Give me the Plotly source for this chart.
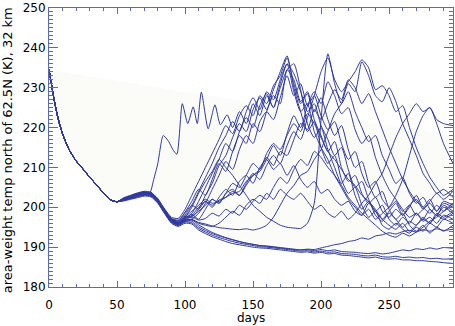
import plotly.graph_objects as go

# shared early segment (all members overlap)
early_days = [0, 1, 2, 3, 4, 5, 6, 7, 8, 10, 12, 15, 20, 25, 30, 35, 40, 45, 50]
early_temp = [234.5, 232.5, 230.5, 228.4, 226.6, 224.9, 223.3, 221.9, 220.6, 218.4,
              216.6, 214.3, 211.6, 209.6, 207.5, 205.6, 203.6, 201.9, 201.4]

# common day grid for members (after day 50)
grid_days = [55, 60, 65, 70, 75, 80, 85, 90, 95, 100,
             105, 110, 115, 120, 125, 130, 135, 140, 145, 150,
             155, 160, 165, 170, 175, 180, 185, 190, 195, 200,
             205, 210, 215, 220, 225, 230, 235, 240, 245, 250,
             255, 260, 265, 270, 275, 280, 285, 290, 297]

# cold members
c1 = [201.6, 202.0, 202.4, 202.8, 202.6, 201.0, 198.4, 196.0, 195.2, 196.0,
      195.8, 194.3, 193.4, 192.6, 192.0, 191.4, 190.9, 190.6, 190.3, 190.0,
      189.8, 189.7, 189.5, 189.3, 189.1, 188.9, 188.7, 188.8, 188.5, 188.7,
      188.3, 188.4, 188.0, 187.9, 187.7, 187.5, 187.3, 187.5, 187.1, 187.0,
      187.1, 186.8, 186.8, 186.6, 186.6, 186.4, 186.3, 186.1, 185.9]
c2 = [201.8, 202.2, 202.6, 203.0, 202.8, 201.2, 198.6, 196.2, 195.4, 196.3,
      196.1, 194.7, 193.8, 193.0, 192.4, 191.9, 191.4, 191.0, 190.7, 190.4,
      190.1, 190.0, 189.8, 189.6, 189.4, 189.2, 189.0, 189.1, 188.8, 189.0,
      188.7, 188.8, 188.4, 188.3, 188.2, 187.9, 187.8, 188.0, 187.6, 187.5,
      187.7, 187.4, 187.5, 187.3, 187.4, 187.1, 187.2, 187.0, 187.1]
c3 = [201.9, 202.3, 202.8, 203.2, 203.0, 201.4, 198.8, 196.4, 195.6, 196.5,
      196.5, 195.1, 194.2, 193.4, 192.8, 192.3, 191.8, 191.4, 191.0, 190.7,
      190.4, 190.3, 190.1, 189.9, 189.7, 189.5, 189.3, 189.4, 189.1, 189.4,
      189.1, 189.3, 188.9, 188.8, 188.7, 188.5, 188.4, 188.6, 188.3, 188.5,
      188.9, 189.3, 189.1, 189.6, 189.4, 189.8, 189.5, 189.9, 189.7]
c4 = [202.1, 202.6, 203.1, 203.5, 203.3, 201.7, 199.2, 196.8, 196.0, 196.9,
      196.9, 195.6, 194.6, 193.7, 193.0, 192.4, 191.9, 191.4, 191.0, 190.7,
      190.4, 190.2, 190.0, 189.8, 189.6, 189.4, 189.3, 189.5, 189.4, 189.8,
      190.2, 190.6, 190.9, 191.4, 191.7, 192.3, 192.0, 192.8, 193.1, 193.6,
      193.3, 193.9, 194.2, 193.8, 194.4, 194.0, 194.6, 194.2, 194.5]

# members warming around day 100-115, peaking near day 175
w2 = [202.4, 203.0, 203.6, 204.0, 203.8, 202.0, 199.6, 197.5, 197.2, 199.5,
      203.0, 206.5, 210.0, 213.5, 217.0, 220.5, 218.5, 223.0, 225.5, 223.0,
      228.0, 226.0, 230.5, 233.0, 237.5, 231.0, 226.0, 228.5, 222.0, 218.0,
      214.0, 216.5, 210.0, 206.5, 208.0, 203.5, 201.0, 202.5, 199.0, 197.5,
      199.5, 198.0, 200.5, 202.0, 199.5, 201.5, 203.5, 202.0, 204.0]
w3 = [202.0, 202.4, 203.0, 203.5, 203.6, 202.2, 199.4, 197.0, 196.5, 198.0,
      200.5, 204.0, 207.5, 211.0, 215.0, 218.0, 221.5, 219.0, 224.0, 227.5,
      224.5, 229.0, 227.0, 232.0, 236.0, 233.5, 229.0, 224.0, 226.0, 220.5,
      217.0, 213.0, 215.0, 209.5, 205.0, 206.5, 202.0, 199.0, 200.5, 197.0,
      195.5, 197.5, 196.0, 198.5, 197.0, 199.5, 198.0, 200.5, 199.0]
w4 = [201.8, 202.6, 203.4, 203.9, 203.4, 201.6, 199.0, 196.8, 196.0, 197.2,
      198.5, 201.5, 205.0, 208.5, 212.0, 216.0, 214.0, 219.0, 222.5, 220.0,
      225.5, 228.5, 225.0, 230.0, 234.5, 236.0, 229.5, 221.0, 217.5, 220.0,
      214.5, 210.0, 206.0, 208.5, 203.0, 199.5, 201.5, 198.0, 196.5, 198.5,
      197.0, 195.0, 196.5, 195.5, 197.5, 196.0, 198.0, 197.0, 198.5]
w5 = [202.2, 202.8, 203.3, 203.7, 203.5, 201.8, 199.2, 196.9, 196.3, 197.8,
      197.5, 199.5, 203.0, 206.0, 210.5, 213.0, 217.5, 221.0, 219.0, 224.5,
      227.5, 224.5, 229.5, 234.0, 238.0, 230.0, 224.0, 219.0, 221.5, 215.0,
      211.0, 213.0, 207.0, 203.5, 205.0, 200.5, 197.5, 199.0, 195.5, 194.5,
      196.0, 194.5, 193.5, 195.0, 194.0, 196.0, 195.0, 197.0, 196.0]
w6 = [201.7, 202.2, 202.9, 203.3, 203.1, 201.3, 198.8, 196.3, 195.7, 196.9,
      197.0, 198.5, 201.0, 204.5, 208.0, 211.5, 209.5, 214.5, 218.0, 216.0,
      221.5, 224.0, 222.0, 227.5, 233.0, 228.0, 231.0, 225.5, 228.0, 223.0,
      219.5, 221.5, 216.0, 212.0, 214.0, 208.5, 205.0, 206.5, 202.0, 200.0,
      201.5, 199.0, 200.5, 198.0, 199.5, 201.0, 199.0, 201.5, 200.5]
w7 = [202.3, 202.9, 203.5, 203.8, 203.4, 201.9, 199.3, 197.1, 196.6, 198.8,
      201.5, 204.5, 203.0, 207.0, 211.0, 209.0, 214.0, 218.0, 216.0, 221.0,
      219.0, 224.0, 228.0, 226.0, 234.5, 232.0, 226.5, 229.0, 224.0, 227.5,
      222.0, 218.0, 220.5, 214.5, 210.0, 211.5, 206.0, 202.5, 204.0, 199.5,
      197.0, 198.5, 195.5, 194.0, 195.5, 193.5, 195.0, 194.0, 195.5]

# slower risers (peaks near day 205 and 230)
s1 = [201.9, 202.5, 203.1, 203.6, 203.4, 201.7, 199.1, 196.7, 196.0, 197.5,
      200.0, 203.5, 206.5, 209.0, 212.0, 210.0, 208.0, 205.5, 203.0, 200.5,
      199.0, 197.5, 196.5, 195.5, 195.0, 194.8, 194.7, 196.0, 201.0, 222.0,
      238.5, 231.0, 226.0, 229.0, 224.0, 220.0, 216.5, 218.0, 213.0, 209.5,
      206.0, 207.5, 203.5, 201.0, 202.5, 199.5, 198.0, 200.0, 198.5]
s2 = [202.0, 202.4, 202.9, 203.3, 203.2, 201.5, 199.0, 196.6, 195.9, 196.7,
      197.8, 199.0, 200.5, 202.0, 201.0, 203.5, 204.5, 203.0, 206.0, 208.5,
      207.0, 210.5, 213.0, 211.0, 215.5, 219.0, 217.0, 222.5, 228.0, 234.0,
      237.5, 232.0, 229.0, 231.5, 234.0, 237.0, 235.0, 229.5, 230.5, 228.0,
      224.0, 225.5, 220.0, 215.0, 211.0, 207.5, 205.0, 203.0, 204.5]
s3 = [201.8, 202.3, 202.8, 203.2, 203.0, 201.4, 198.9, 196.5, 195.7, 196.4,
      196.8, 196.2, 195.8, 195.3, 194.9, 194.7, 194.5, 194.4, 194.6, 194.3,
      194.7, 195.5, 197.5, 200.5, 203.5, 205.5, 208.0, 209.0, 212.0, 214.5,
      219.0, 223.5, 226.0, 231.0, 229.0, 236.5, 233.0, 228.0, 226.5, 230.0,
      226.5, 221.0, 217.0, 213.0, 208.5, 206.0, 203.5, 204.5, 202.5]
s4 = [202.1, 202.7, 203.2, 203.5, 203.2, 201.6, 199.1, 196.8, 196.2, 197.6,
      199.0, 200.5, 202.0, 201.0, 201.5, 202.5, 204.0, 203.0, 205.5, 208.0,
      209.5, 212.5, 210.5, 214.0, 213.0, 217.0, 221.0, 219.5, 224.5, 222.0,
      226.0, 229.5, 227.0, 232.0, 230.0, 226.0, 228.5, 224.0, 219.5, 215.0,
      211.0, 207.0, 204.0, 201.5, 200.0, 198.5, 200.5, 199.0, 201.0]

# late risers (peaks near day 275)
r1 = [201.9, 202.4, 202.9, 203.4, 203.2, 201.6, 199.0, 196.6, 195.9, 196.6,
      197.0, 196.0, 195.5, 195.2, 196.0, 197.5, 199.0, 198.0, 200.5, 202.0,
      201.0, 203.5, 202.0, 204.5, 203.0, 202.0, 203.5, 201.5, 199.5, 200.5,
      198.5, 197.5, 199.0, 197.0, 198.5, 201.0, 203.0, 206.0, 208.5, 213.0,
      217.5, 221.0, 223.5, 226.0, 224.0, 225.0, 222.0, 221.0, 220.5]
r2 = [202.0, 202.6, 203.0, 203.6, 203.4, 201.8, 199.3, 196.9, 196.1, 197.0,
      198.0, 200.0, 201.5, 200.0, 202.5, 204.5, 203.0, 206.5, 208.0, 206.0,
      210.0, 212.0, 209.5, 211.0, 208.0, 210.5, 207.0, 205.0, 206.5, 203.5,
      204.5, 202.0, 200.5, 201.5, 199.0, 198.0, 199.5, 197.0, 198.5, 200.0,
      203.0, 207.0, 213.0, 219.0, 223.0, 225.0, 221.0, 216.0, 211.0]

# moderate risers
m1 = [201.8, 202.5, 203.1, 203.4, 203.1, 201.3, 198.9, 196.6, 196.0, 197.3,
      198.2, 197.0, 199.5, 202.0, 201.0, 203.5, 206.0, 205.0, 208.0, 211.0,
      209.5, 213.5, 216.0, 214.5, 218.0, 221.0, 219.0, 223.5, 221.0, 217.5,
      214.0, 212.0, 209.5, 207.0, 205.5, 203.0, 201.5, 199.5, 197.0, 195.5,
      194.5, 196.0, 194.0, 195.5, 197.0, 196.0, 198.5, 197.5, 199.0]
m2 = [202.0, 202.5, 203.0, 203.5, 203.3, 201.7, 199.2, 196.8, 196.1, 197.3,
      197.6, 196.8, 197.2, 198.5, 197.8, 199.5, 198.5, 200.5, 199.5, 201.5,
      203.0, 202.0, 205.0, 207.5, 206.0, 209.5, 212.0, 210.5, 214.0, 212.5,
      210.0, 208.0, 205.5, 202.5, 200.5, 198.5, 197.0, 195.5, 194.0, 193.0,
      192.5, 193.5, 192.8, 193.8, 195.0, 196.5, 197.5, 199.0, 201.0]
m3 = [202.2, 202.7, 203.3, 203.7, 203.5, 201.9, 199.4, 197.2, 196.8, 198.5,
      200.5, 199.5, 201.5, 200.5, 201.8, 202.5, 203.5, 204.0, 206.5, 208.0,
      209.0, 212.0, 215.5, 213.0, 218.5, 223.0, 220.0, 225.5, 229.0, 226.0,
      231.5, 228.0, 223.5, 225.0, 219.5, 216.0, 218.0, 212.5, 208.0, 204.5,
      202.0, 199.5, 197.5, 198.5, 196.5, 197.5, 196.0, 198.0, 197.0]

# earliest warming member (own day list)
w1_days = [55, 60, 65, 70, 74, 77, 80, 84, 88, 91, 94, 98, 102, 106, 109, 112, 117,
           122, 126, 131, 135, 140, 145, 150, 155, 160, 165, 170, 175, 180, 185,
           190, 195, 200, 205, 210, 215, 220, 225, 230, 235, 240, 245, 250, 255,
           260, 265, 270, 275, 280, 285, 290, 297]
w1_temp = [202.2, 202.7, 203.2, 203.6, 203.5, 207.0, 211.0, 218.0, 216.5, 214.5,
           213.3, 226.0, 221.0, 225.2, 221.0, 228.9, 219.7, 225.7, 220.7, 223.2,
           220.0, 224.0, 221.0, 226.0, 223.0, 228.0, 225.0, 231.0, 236.0, 229.0,
           224.0, 226.0, 219.0, 215.0, 212.0, 208.0, 205.0, 202.0, 200.0, 198.0,
           201.0, 199.0, 197.0, 199.0, 201.0, 198.0, 200.0, 203.0, 200.0, 202.0,
           199.0, 201.0, 200.0]

# light background polygon: upper straight edge
fill_top_days = [0, 297]
fill_top_temp = [234.5, 218.0]

grid_members = [c1, c2, c3, c4, w2, w3, w4, w5, w6, w7, s1, s2, s3, s4, r1, r2, m1, m2, m3]

LINE = "rgb(46,56,158)"
AX = "rgb(92,104,190)"

fig = go.Figure()

low_x = early_days + grid_days
low_y = early_temp + c1
fig.add_trace(go.Scatter(
    x=fill_top_days + low_x[::-1], y=fill_top_temp + low_y[::-1],
    fill="toself", fillcolor="rgb(251,251,248)", mode="lines",
    line=dict(width=0), hoverinfo="skip"))

for mem in grid_members:
    fig.add_trace(go.Scatter(x=early_days + grid_days, y=early_temp + mem, mode="lines",
                             line=dict(color=LINE, width=1, shape="spline", smoothing=0.6),
                             hoverinfo="skip"))
fig.add_trace(go.Scatter(x=early_days + w1_days, y=early_temp + w1_temp, mode="lines",
                         line=dict(color=LINE, width=1, shape="spline", smoothing=0.6),
                         hoverinfo="skip"))

xfont = dict(family="DejaVu Sans", size=12, color="black")
yfont = dict(family="DejaVu Sans", size=12, color="black")
tfont = dict(family="DejaVu Sans", size=13, color="black")
fig.update_layout(
    width=455, height=326,
    margin=dict(l=49, r=2, t=8, b=39, autoexpand=False),
    paper_bgcolor="white", plot_bgcolor="white",
    showlegend=False, font=xfont,
    xaxis=dict(range=[0, 297], tick0=0, dtick=50, ticks="inside", ticklen=6,
               tickcolor=AX, showline=True, linecolor=AX, linewidth=1, mirror="ticks",
               showgrid=False, zeroline=False, tickfont=xfont, ticklabelstandoff=7,
               ticklabeloverflow="allow",
               minor=dict(dtick=10, ticks="inside", ticklen=3, tickcolor=AX, showgrid=False)),
    yaxis=dict(range=[180, 250], tick0=180, dtick=10, ticks="inside", ticklen=9,
               tickcolor=AX, showline=True, linecolor=AX, linewidth=1, mirror="ticks",
               showgrid=False, zeroline=False, tickfont=yfont, ticklabeloverflow="allow",
               minor=dict(dtick=1, ticks="inside", ticklen=4, tickcolor=AX, showgrid=False)),
    annotations=[
        dict(text="area-weight temp north of 62.5N (K), 32 km", textangle=-90,
             xref="paper", yref="paper", x=-0.104, y=0.49,
             xanchor="center", yanchor="middle", showarrow=False, font=tfont),
        dict(text="days", xref="paper", yref="paper", x=0.5, y=-0.11,
             xanchor="center", yanchor="middle", showarrow=False, font=xfont),
    ],
)

fig.write_html("out.html", config={"displayModeBar": False},
               post_script="document.body.style.margin='0';document.body.style.overflow='hidden';")
